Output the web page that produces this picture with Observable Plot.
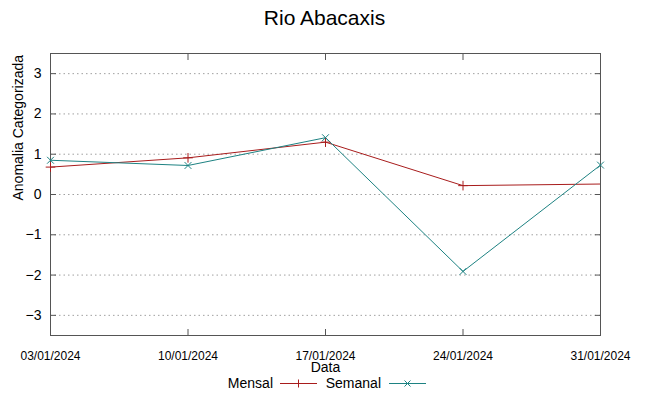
<!DOCTYPE html>
<html>
<head>
<meta charset="utf-8">
<script src="https://cdn.jsdelivr.net/npm/d3@7"></script>
<script src="https://cdn.jsdelivr.net/npm/@observablehq/plot@0.6"></script>
<style>
  body { margin: 0; background: white; font-family: "Liberation Sans", Arial, sans-serif; }
  #wrap { width: 649px; height: 396px; position: relative; overflow: hidden; }
  #title { height: 38px; line-height: 36px; text-align: center; font-size: 21px; color: #000; }
  #legend { position: relative; height: 20px; font-size: 14px; color: #000; }
  #legend span { position: absolute; top: 0; line-height: 14px; }
  #legend svg { position: absolute; top: 0; }
</style>
</head>
<body>
<div id="wrap">
  <div id="title">Rio Abacaxis</div>
  <div id="chart"></div>
  <div id="legend"></div>
</div>
<script>
const titleText = "Rio Abacaxis";
const xLabel = "Data";
const yLabel = "Anomalia Categorizada";
const seriesNames = ["Mensal", "Semanal"];
const seriesColors = ["#a81c1c", "#1d8282"];
const dates = ["2024-01-03", "2024-01-10", "2024-01-17", "2024-01-24", "2024-01-31"];
const xTickLabels = ["03/01/2024", "10/01/2024", "17/01/2024", "24/01/2024", "31/01/2024"];
const mensalDates = ["2024-01-03", "2024-01-10", "2024-01-17", "2024-01-24", "2024-02-07"];
const mensal = [0.68, 0.91, 1.30, 0.22, 0.30];
const semanal = [0.85, 0.72, 1.41, -1.91, 0.73];
const yTicks = [-3, -2, -1, 0, 1, 2, 3];
const yDomain = [-3.5, 3.5];

const parse = d3.utcParse("%Y-%m-%d");
const xTicks = dates.map(parse);
const mensalData = mensalDates.map((d, i) => ({date: parse(d), value: mensal[i]}));
const semanalData = dates.map((d, i) => ({date: parse(d), value: semanal[i]}));
const xDomain = [xTicks[0], xTicks[xTicks.length - 1]];
const inRange = d => d.date >= xDomain[0] && d.date <= xDomain[1];

const chart = Plot.plot({
  width: 649,
  height: 338,
  marginTop: 15,
  marginBottom: 41,
  marginLeft: 50,
  marginRight: 49,
  style: {fontFamily: "'Liberation Sans', Arial, sans-serif", background: "white", color: "#000"},
  x: {type: "utc", domain: xDomain},
  y: {domain: yDomain},
  marks: [
    Plot.gridY(yTicks, {stroke: "#a0a0a0", strokeOpacity: 1, strokeDasharray: "1.5,3"}),
    Plot.axisY(yTicks, {anchor: "left", tickSize: 0, tickPadding: 9, fontSize: 14, label: null}),
    Plot.axisY(yTicks, {anchor: "left", tickSize: -6, tickFormat: () => "", label: null, stroke: "#555"}),
    Plot.axisY(yTicks, {anchor: "right", tickSize: -6, tickFormat: () => "", label: null, stroke: "#555"}),
    Plot.axisX(xTicks, {anchor: "bottom", tickSize: 0, tickPadding: 16, fontSize: 12,
      tickFormat: (d) => xTickLabels[xTicks.findIndex(t => +t === +d)], label: null}),
    Plot.axisX(xTicks, {anchor: "bottom", tickSize: -6, tickFormat: () => "", label: null, stroke: "#555"}),
    Plot.axisX(xTicks, {anchor: "top", tickSize: -6, tickFormat: () => "", label: null, stroke: "#555"}),
    Plot.frame({stroke: "#555", strokeWidth: 1}),
    Plot.line(mensalData, {x: "date", y: "value", stroke: seriesColors[0], strokeWidth: 1, clip: true}),
    Plot.line(semanalData, {x: "date", y: "value", stroke: seriesColors[1], strokeWidth: 1, clip: true}),
    Plot.dot(mensalData.filter(inRange), {x: "date", y: "value", symbol: "plus", r: 3.2, stroke: seriesColors[0], strokeWidth: 1}),
    Plot.dot(semanalData.filter(inRange), {x: "date", y: "value", symbol: "times", r: 3.2, stroke: seriesColors[1], strokeWidth: 1}),
    Plot.text([xLabel], {frameAnchor: "bottom", dy: 36, fontSize: 14, fill: "#000"}),
    Plot.text([yLabel], {frameAnchor: "left", dx: -32, dy: 6, rotate: -90, fontSize: 14, fill: "#000"})
  ]
});
document.getElementById("chart").appendChild(chart);

// legend
const legend = document.getElementById("legend");
const items = [
  {name: seriesNames[0], color: seriesColors[0], textRight: 273, lineX: 280, sym: "plus"},
  {name: seriesNames[1], color: seriesColors[1], textRight: 381, lineX: 389, sym: "times"}
];
items.forEach(it => {
  const s = document.createElement("span");
  s.textContent = it.name;
  s.style.right = (649 - it.textRight) + "px";
  legend.appendChild(s);
  const w = 37;
  const svg = d3.create("svg").attr("width", w).attr("height", 14)
    .style("left", it.lineX + "px");
  svg.append("line").attr("x1", 0).attr("x2", w).attr("y1", 7.5).attr("y2", 7.5)
    .attr("stroke", it.color).attr("stroke-width", 1);
  const cx = w / 2, cy = 7.5, r = 4;
  if (it.sym === "plus") {
    svg.append("path").attr("d", `M${cx - r},${cy}H${cx + r}M${cx},${cy - r}V${cy + r}`)
      .attr("stroke", it.color).attr("fill", "none");
  } else {
    const q = r * 0.75;
    svg.append("path").attr("d", `M${cx - q},${cy - q}L${cx + q},${cy + q}M${cx - q},${cy + q}L${cx + q},${cy - q}`)
      .attr("stroke", it.color).attr("fill", "none");
  }
  legend.appendChild(svg.node());
});
</script>
</body>
</html>
